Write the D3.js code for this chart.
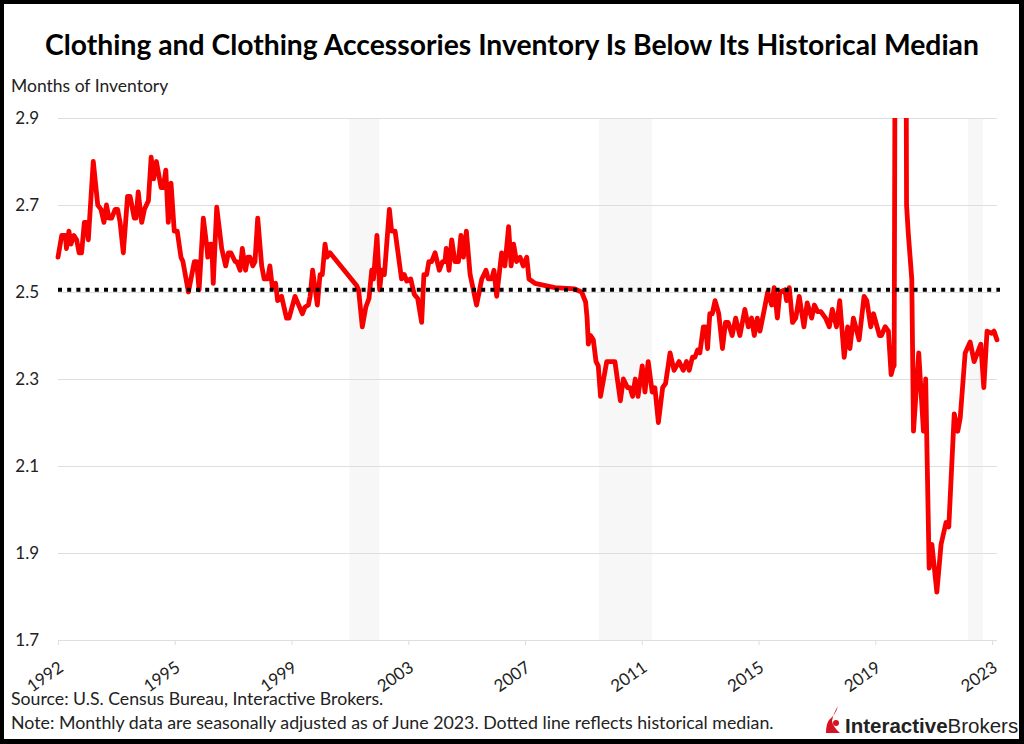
<!DOCTYPE html>
<html>
<head>
<meta charset="utf-8">
<script src="https://cdn.jsdelivr.net/npm/d3@7"></script>
<style>
  html, body { margin: 0; padding: 0; background: #000; overflow: hidden; }
  text { font-family: Lato, "Open Sans", sans-serif; fill: #222; }
</style>
</head>
<body>
<div id="chart"></div>
<script>
// months since Jan 1992 (the source line is smoothed so some fall between months)
let monthIndex = [
  0, 1.5, 3, 3.4, 4.4, 5.2, 6.4, 7.5, 8.5, 9.5, 10.6, 11.4, 12.2, 14.2, 16, 17.3, 18.5, 19.5, 20.5, 21.6,
  23, 24, 25, 26.3, 28, 29, 30.7, 31.4, 32.3, 33.7, 34.8, 36.4, 37.5, 38.5, 39.6, 41.5, 42.4, 43.4, 44.4, 45.5,
  46.8, 48, 49.5, 50.3, 52.5, 54.9, 55.8, 56.8, 58.5, 60, 60.3, 61.2, 61.9, 62.5, 63.9, 65.9, 67.5, 68.6, 69.6, 71.3,
  72, 73.3, 74.2, 75.5, 76.4, 77.3, 78.4, 79.3, 80.4, 82, 83, 84.4, 85.3, 86.3, 87.6, 88.4, 90, 92, 93, 95.4,
  98.4, 99.4, 100.8, 101.5, 102.5, 104.4, 105.5, 106.4, 107.5, 108.3, 109.5, 120.2, 121, 122.5, 123.9, 125.2, 126.3, 127, 128.4, 129.5,
  130.3, 131.4, 133.4, 134.3, 135.7, 138.3, 139.4, 140.4, 142, 143.4, 144.8, 146.4, 147.3, 148.4, 149.3, 150.4, 151.8, 153.5, 154.8, 155.8,
  156.3, 157.4, 158.5, 159.8, 161.2, 162.2, 163.2, 164.4, 165.9, 168.5, 170.6, 172.3, 173.2, 174.6, 175.5, 176.6, 178.6, 179.9, 181.4, 182.4,
  183.4, 184.6, 186, 187.3, 188.7, 189.6, 192, 200, 208, 210.8, 212.4, 213, 213.5, 214.4, 215.5, 216.6, 217.5, 218.4, 220.9, 224.2,
  226.4, 227.6, 229.3, 230.3, 231.3, 232.4, 233.5, 235.2, 236.3, 237.6, 239.2, 240.3, 241.7, 243.4, 244.6, 246.4, 248, 250, 251.7, 253,
  254.1, 255.4, 256.4, 257.5, 258.4, 259.8, 260.7, 261.5, 262.4, 263.4, 264.5, 266, 267.5, 268.7, 269.8, 271.4, 272.8, 274.5, 276.5, 277.9,
  279.2, 280.3, 281.5, 282.6, 284, 285.7, 287.3, 288.3, 289.6, 290.6, 292.6, 293.3, 294.4, 295.7, 297, 298.4, 300.3, 301.6, 303.4, 304.5,
  305.8, 307.1, 309, 310.5, 311.7, 313.4, 314.7, 316.5, 317.9, 318.8, 320.2, 322.5, 324.5, 325.6, 327.2, 328.3, 330.7, 331.5, 333, 334.3,
  335.4, 336.3, 336.6, 337.2, 341.2, 341.6, 342.3, 343.7, 344.4, 346.5, 348.4, 349.3, 350.7, 351.8, 353.8, 355.5, 357.5, 358.6, 360.8, 362.2,
  363.2, 365.2, 367.2, 368.8, 371.5, 372.7, 374, 375.9, 376.8, 378
];
let inventory = [
  2.58, 2.63, 2.63, 2.60, 2.64, 2.61, 2.63, 2.62, 2.59, 2.59, 2.66, 2.66, 2.62, 2.80, 2.70, 2.69, 2.66, 2.70, 2.67, 2.67,
  2.69, 2.69, 2.66, 2.59, 2.72, 2.72, 2.67, 2.67, 2.73, 2.66, 2.69, 2.71, 2.81, 2.76, 2.80, 2.74, 2.74, 2.78, 2.66, 2.75,
  2.64, 2.64, 2.58, 2.57, 2.50, 2.57, 2.57, 2.505, 2.67, 2.60, 2.58, 2.61, 2.61, 2.52, 2.695, 2.60, 2.56, 2.59, 2.59, 2.57,
  2.57, 2.55, 2.60, 2.55, 2.58, 2.58, 2.56, 2.57, 2.67, 2.56, 2.53, 2.53, 2.56, 2.51, 2.52, 2.48, 2.49, 2.44, 2.44, 2.49,
  2.45, 2.465, 2.47, 2.49, 2.55, 2.47, 2.54, 2.54, 2.61, 2.58, 2.59, 2.515, 2.505, 2.42, 2.465, 2.485, 2.55, 2.53, 2.63, 2.505,
  2.55, 2.54, 2.69, 2.64, 2.64, 2.53, 2.54, 2.525, 2.53, 2.495, 2.485, 2.43, 2.54, 2.54, 2.57, 2.57, 2.59, 2.55, 2.57, 2.57,
  2.60, 2.55, 2.62, 2.57, 2.57, 2.63, 2.58, 2.64, 2.54, 2.47, 2.53, 2.55, 2.53, 2.53, 2.55, 2.49, 2.59, 2.56, 2.65, 2.56,
  2.61, 2.57, 2.58, 2.56, 2.58, 2.53, 2.52, 2.51, 2.507, 2.50, 2.477, 2.44, 2.38, 2.40, 2.39, 2.34, 2.33, 2.26, 2.34, 2.34,
  2.25, 2.30, 2.28, 2.28, 2.26, 2.30, 2.26, 2.33, 2.27, 2.34, 2.27, 2.28, 2.20, 2.28, 2.29, 2.36, 2.32, 2.34, 2.32, 2.34,
  2.32, 2.35, 2.35, 2.367, 2.36, 2.42, 2.42, 2.37, 2.45, 2.45, 2.48, 2.45, 2.37, 2.43, 2.43, 2.40, 2.44, 2.40, 2.46, 2.42,
  2.44, 2.40, 2.44, 2.41, 2.45, 2.50, 2.47, 2.51, 2.44, 2.50, 2.505, 2.48, 2.51, 2.43, 2.44, 2.49, 2.42, 2.475, 2.44, 2.47,
  2.455, 2.455, 2.44, 2.42, 2.46, 2.42, 2.48, 2.35, 2.42, 2.37, 2.44, 2.39, 2.49, 2.48, 2.42, 2.45, 2.40, 2.40, 2.42, 2.41,
  2.31, 2.33, 2.33, 3.5, 3.5, 2.7, 2.635, 2.53, 2.18, 2.36, 2.18, 2.30, 1.865, 1.92, 1.81, 1.92, 1.97, 1.96, 2.22, 2.18,
  2.21, 2.36, 2.385, 2.34, 2.38, 2.28, 2.41, 2.405, 2.41, 2.39
];
let medianValue = 2.505;

let yTicks = [1.7, 1.9, 2.1, 2.3, 2.5, 2.7, 2.9];
let xTickMonths = [0, 47, 94, 141, 188, 235, 282, 329, 376];
let xTickLabels = ['1992', '1995', '1999', '2003', '2007', '2011', '2015', '2019', '2023'];

// recessions as [start, end] in months since Jan 1992
let shadedPeriods = [[117.3, 129.4], [217.8, 239.2], [366.4, 372.4]];

let pageWidth = 1024;
let pageHeight = 744;
let margin = {top: 118, right: 27, bottom: 104, left: 58};

let svg = d3.select('#chart')
    .append('svg')
    .attr('width', pageWidth)
    .attr('height', pageHeight)
    .style('display', 'block');

// picture frame
svg.append('rect')
    .attr('x', 4)
    .attr('y', 4)
    .attr('width', 1015)
    .attr('height', 735)
    .attr('fill', '#fff');

let x = d3.scaleLinear()
    .domain([0, 376])
    .range([margin.left, 992]);
let y = d3.scaleLinear()
    .domain([1.7, 2.9])
    .range([pageHeight - margin.bottom, margin.top]);

svg.append('clipPath')
    .attr('id', 'plot-clip')
    .append('rect')
    .attr('x', margin.left - 5)
    .attr('y', margin.top)
    .attr('width', pageWidth - margin.left)
    .attr('height', pageHeight - margin.top - margin.bottom);

svg.selectAll('.band')
    .data(shadedPeriods)
    .enter()
    .append('rect')
    .attr('class', 'band')
    .attr('x', d => x(d[0]))
    .attr('y', margin.top)
    .attr('width', d => x(d[1]) - x(d[0]))
    .attr('height', y(1.7) - margin.top)
    .attr('fill', '#f7f7f7');

// y axis: labels and gridlines
let yAxis = svg.append('g')
    .attr('transform', `translate(${margin.left}, 0)`)
    .call(d3.axisLeft(y)
        .tickValues(yTicks)
        .tickFormat(d3.format('.1f'))
        .tickSize(-(997 - margin.left))
        .tickPadding(19));
yAxis.select('.domain').remove();
yAxis.selectAll('line').attr('stroke', '#dedede');
yAxis.selectAll('text').style('font-size', '17px').attr('fill', '#222');

// x axis
let xAxis = svg.append('g')
    .attr('transform', `translate(0, ${y(1.7)})`)
    .call(d3.axisBottom(x)
        .tickValues(xTickMonths)
        .tickFormat((d, i) => xTickLabels[i])
        .tickSize(5)
        .tickSizeOuter(0));
xAxis.select('.domain').attr('stroke', '#dedede');
xAxis.selectAll('line').attr('stroke', '#dedede');
xAxis.selectAll('text')
    .style('font-size', '17px')
    .style('text-anchor', 'end')
    .attr('fill', '#222')
    .attr('dx', 0)
    .attr('dy', 0)
    .attr('y', 0)
    .attr('transform', 'translate(6, 30) rotate(-35)');

let line = d3.line()
    .x(d => x(d))
    .y((d, i) => y(inventory[i]));

svg.append('path')
    .attr('d', line(monthIndex))
    .attr('clip-path', 'url(#plot-clip)')
    .attr('fill', 'none')
    .attr('stroke', '#f80000')
    .attr('stroke-width', 4.8)
    .attr('stroke-linejoin', 'round')
    .attr('stroke-linecap', 'round');

// dotted median line, on top of the series
svg.append('line')
    .attr('x1', margin.left)
    .attr('x2', 1000)
    .attr('y1', y(medianValue))
    .attr('y2', y(medianValue))
    .attr('stroke', '#000')
    .attr('stroke-width', 4)
    .attr('stroke-dasharray', '4 5.2');

svg.append('text')
    .attr('x', 512)
    .attr('y', 55)
    .attr('text-anchor', 'middle')
    .style('font-size', '28.3px')
    .style('font-weight', 700)
    .style('fill', '#000')
    .text('Clothing and Clothing Accessories Inventory Is Below Its Historical Median');

svg.append('text')
    .attr('x', 11)
    .attr('y', 92)
    .style('font-size', '17.5px')
    .text('Months of Inventory');

svg.append('text')
    .attr('x', 11)
    .attr('y', 705)
    .style('font-size', '17.7px')
    .text('Source: U.S. Census Bureau, Interactive Brokers.');

svg.append('text')
    .attr('x', 11)
    .attr('y', 729)
    .style('font-size', '17.8px')
    .text('Note: Monthly data are seasonally adjusted as of June 2023. Dotted line reflects historical median.');

// logo: flame mark and wordmark
let logo = svg.append('g');
logo.append('path')
    .attr('d', 'M838 706 Q836 714 829 720 Q826 724 826 733 L840 733 Q833 727 832 721 Q833 714 838 706 Z')
    .attr('fill', '#d81222');
logo.append('circle')
    .attr('cx', 836)
    .attr('cy', 723)
    .attr('r', 3)
    .attr('fill', '#d81222');
let wordmark = logo.append('text')
    .attr('x', 845)
    .attr('y', 733)
    .style('font-family', '"Liberation Sans", Arial, sans-serif')
    .style('font-size', '20.5px')
    .style('fill', '#222');
wordmark.append('tspan').style('font-weight', 700).text('Interactive');
wordmark.append('tspan').text('Brokers');
</script>
</body>
</html>
